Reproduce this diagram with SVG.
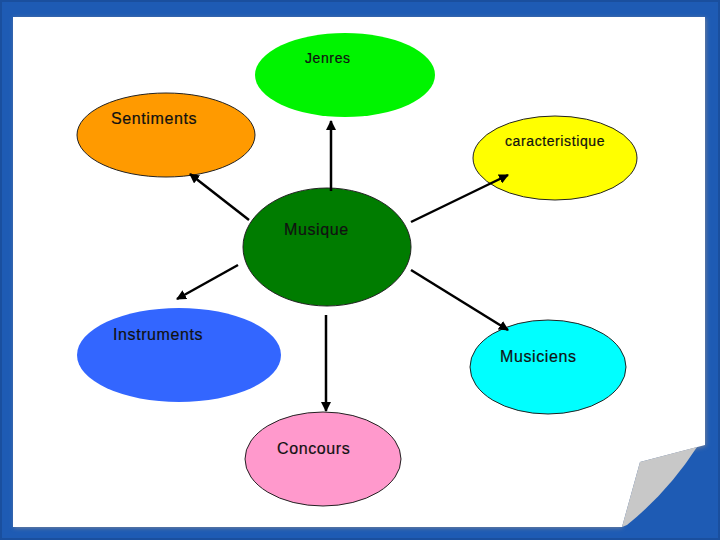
<svg xmlns="http://www.w3.org/2000/svg" width="720" height="540" viewBox="0 0 720 540">
  <defs>
    <style>
      .node { stroke: #222; stroke-width: 1; }
      .lbl { font-family: "Liberation Sans", Arial, sans-serif; fill: #111; stroke: #111; stroke-width: 0.2; letter-spacing: 0.6px; }
      .s { font-size: 14px; }
      .l { font-size: 16px; }
      .edge { stroke: #000; stroke-width: 2.5; fill: none; marker-end: url(#arr); }
    </style>
    <marker id="arr" viewBox="0 0 10 10" refX="9" refY="5" markerWidth="4" markerHeight="4" orient="auto" markerUnits="strokeWidth">
      <path d="M0,0 L10,5 L0,10 Z" fill="#000"/>
    </marker>
    <filter id="sh" x="-5%" y="-5%" width="110%" height="110%">
      <feGaussianBlur stdDeviation="2"/>
    </filter>
  </defs>

  <rect x="0" y="0" width="720" height="540" fill="#1e5bb4"/>
  <rect x="0" y="0" width="720" height="540" fill="none" stroke="#1a4f9e" stroke-width="4"/>
  <path d="M14,18 H706 V446 L640,463 L622,528 H14 Z" fill="#6f7f99" filter="url(#sh)"/>
  <path d="M13,17 H705 V445 L640,462 L622,527 H13 Z" fill="#ffffff"/>
  <path d="M640,462 L697,447 Q668,492 627,525 L622,527 Z" fill="#c8c8c8"/>

  <g id="jenres">
    <ellipse cx="345" cy="75" rx="90" ry="42" fill="#00f400"/>
    <text class="lbl s" x="305" y="63">Jenres</text>
  </g>
  <g id="sentiments">
    <ellipse class="node" cx="166" cy="135" rx="89" ry="42" fill="#ff9a00"/>
    <text class="lbl l" x="111" y="124">Sentiments</text>
  </g>
  <g id="caracteristique">
    <ellipse class="node" cx="555" cy="158" rx="82" ry="42" fill="#ffff00"/>
    <text class="lbl s" x="505" y="146">caracteristique</text>
  </g>
  <g id="musique">
    <ellipse class="node" cx="327" cy="247" rx="84" ry="59" fill="#007c00"/>
    <text class="lbl l" x="284" y="235">Musique</text>
  </g>
  <g id="instruments">
    <ellipse cx="179" cy="355" rx="102" ry="47" fill="#3366ff"/>
    <text class="lbl l" x="113" y="340">Instruments</text>
  </g>
  <g id="musiciens">
    <ellipse class="node" cx="548" cy="367" rx="78" ry="47" fill="#00ffff"/>
    <text class="lbl l" x="500" y="362">Musiciens</text>
  </g>
  <g id="concours">
    <ellipse class="node" cx="323" cy="459" rx="78" ry="47" fill="#ff99cc"/>
    <text class="lbl l" x="277" y="454">Concours</text>
  </g>

  <g id="connectors">
    <line class="edge" x1="249" y1="220" x2="190" y2="174"/>
    <line class="edge" x1="331" y1="191" x2="331" y2="121"/>
    <line class="edge" x1="411" y1="222" x2="508" y2="175"/>
    <line class="edge" x1="238" y1="265" x2="177" y2="299"/>
    <line class="edge" x1="411" y1="270" x2="508" y2="330"/>
    <line class="edge" x1="326" y1="315" x2="326" y2="411"/>
  </g>
</svg>
